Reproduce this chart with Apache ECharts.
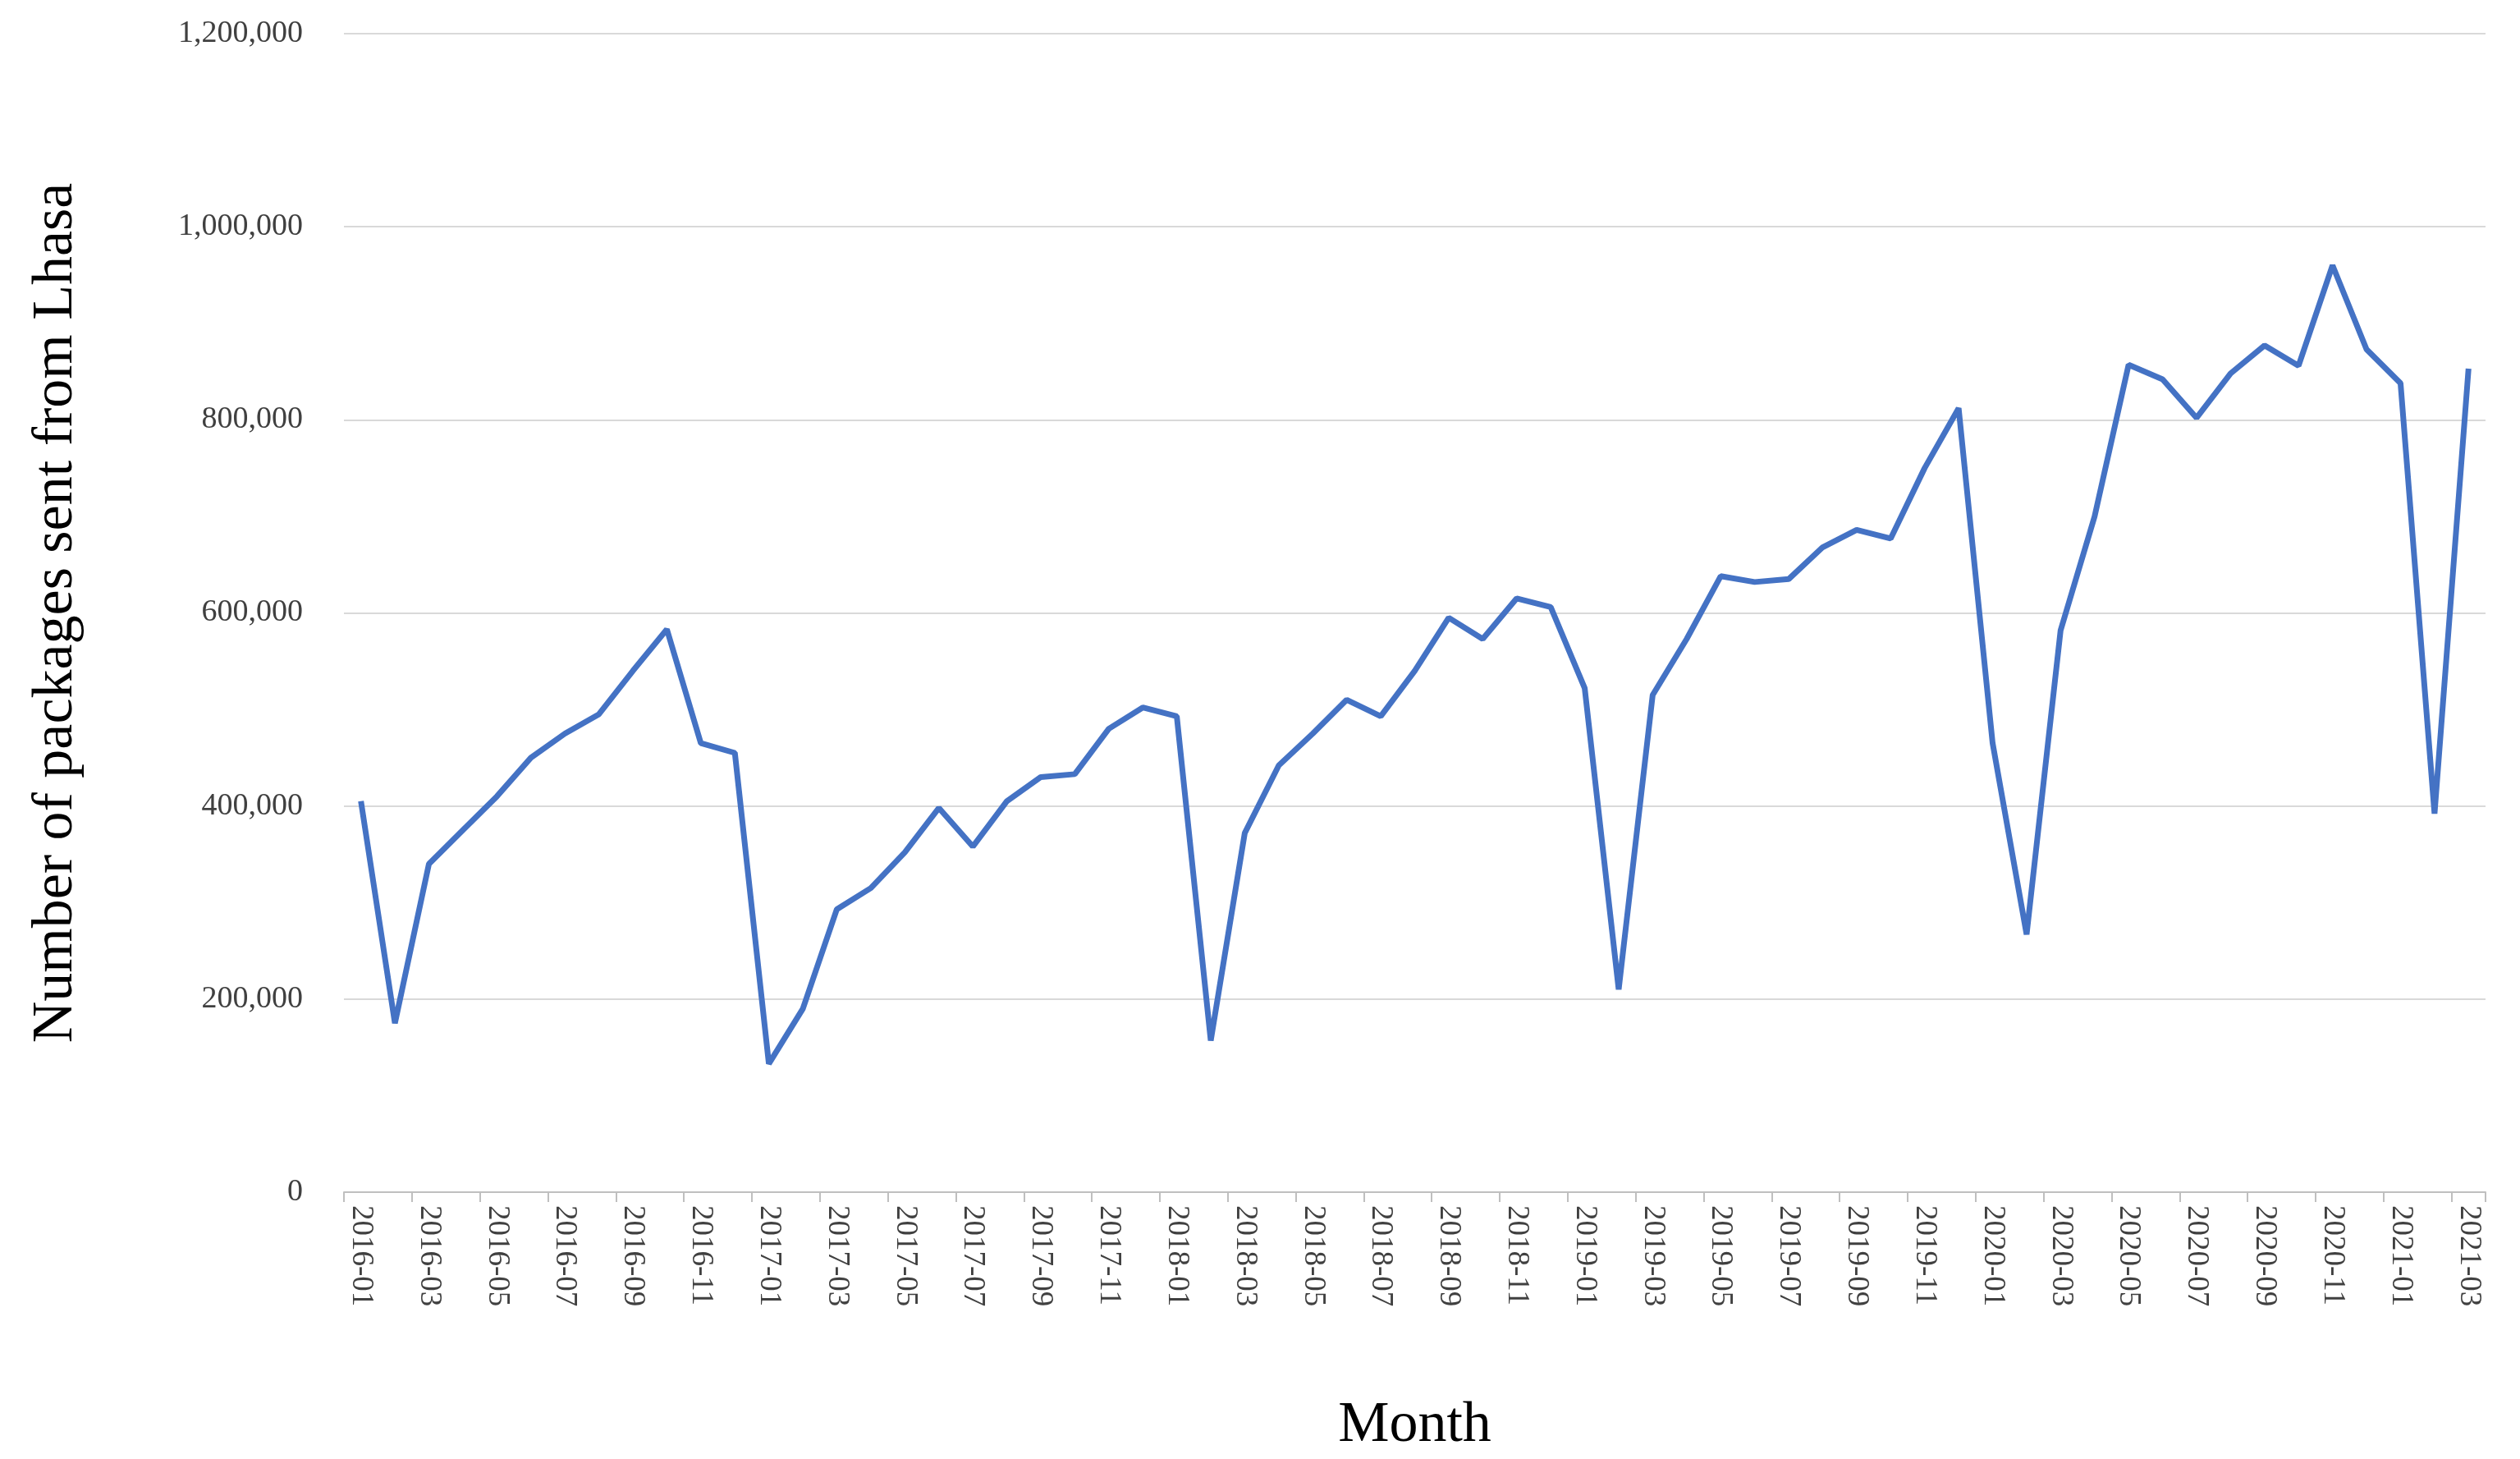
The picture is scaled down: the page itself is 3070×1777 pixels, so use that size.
<!DOCTYPE html>
<html>
<head>
<meta charset="utf-8">
<script src="https://cdn.jsdelivr.net/npm/echarts@6/dist/echarts.min.js"></script>
<style>html,body{margin:0;padding:0;background:#fff}#chart{width:3070px;height:1777px}</style>
</head>
<body>
<div id="chart"></div>
<script>
// months 2016-01 .. 2021-03
const months = [];
for (let y = 2016; y <= 2021; y++) {
    for (let m = 1; m <= 12; m++) {
        if (y === 2021 && m > 3) break;
        months.push(y + '-' + String(m).padStart(2, '0'));
    }
}

const packages = [
    405000, 175000, 340000, 375000, 410000, 450000, 475000, 495000, 540000, 583000, 465000, 455000,
    133000, 190000, 293000, 315000, 352000, 398000, 358000, 405000, 430000, 433000, 480000, 502000,
    493000, 157000, 372000, 442000, 475000, 510000, 493000, 540000, 595000, 573000, 615000, 606000,
    522000, 210000, 515000, 573000, 638000, 632000, 635000, 668000, 686000, 677000, 750000, 812000,
    465000, 267000, 582000, 700000, 857000, 842000, 802000, 848000, 877000, 856000, 960000, 873000,
    838000, 392000, 853000
];

const font = 'Liberation Serif';
const chart = echarts.init(document.getElementById('chart'));
chart.setOption({
    animation: false,
    grid: { left: 419, right: 42, top: 41, bottom: 307 },
    xAxis: {
        type: 'category',
        data: months,
        boundaryGap: true,
        name: 'Month',
        nameLocation: 'middle',
        nameGap: 250,
        nameTextStyle: { fontFamily: font, fontSize: 70, color: '#000' },
        axisLine: { lineStyle: { color: '#bfbfbf', width: 2 } },
        axisTick: { show: true, interval: 1, length: 12, lineStyle: { color: '#bfbfbf', width: 2 } },
        axisLabel: {
            interval: 1, rotate: -90, margin: 16,
            fontFamily: font, fontSize: 37, color: '#404040'
        }
    },
    yAxis: {
        type: 'value',
        min: 0, max: 1200000, interval: 200000,
        name: 'Number of packages sent from Lhasa',
        nameLocation: 'middle',
        nameGap: 315,
        nameTextStyle: { fontFamily: font, fontSize: 70, color: '#000' },
        axisLine: { show: false },
        axisTick: { show: false },
        splitLine: { lineStyle: { color: '#d9d9d9', width: 2 } },
        axisLabel: {
            margin: 50, fontFamily: font, fontSize: 38, color: '#404040',
            formatter: v => v.toLocaleString('en-US')
        }
    },
    series: [{
        type: 'line',
        data: packages,
        symbol: 'none',
        lineStyle: { color: '#4472C4', width: 7 }
    }]
});
</script>
</body>
</html>
